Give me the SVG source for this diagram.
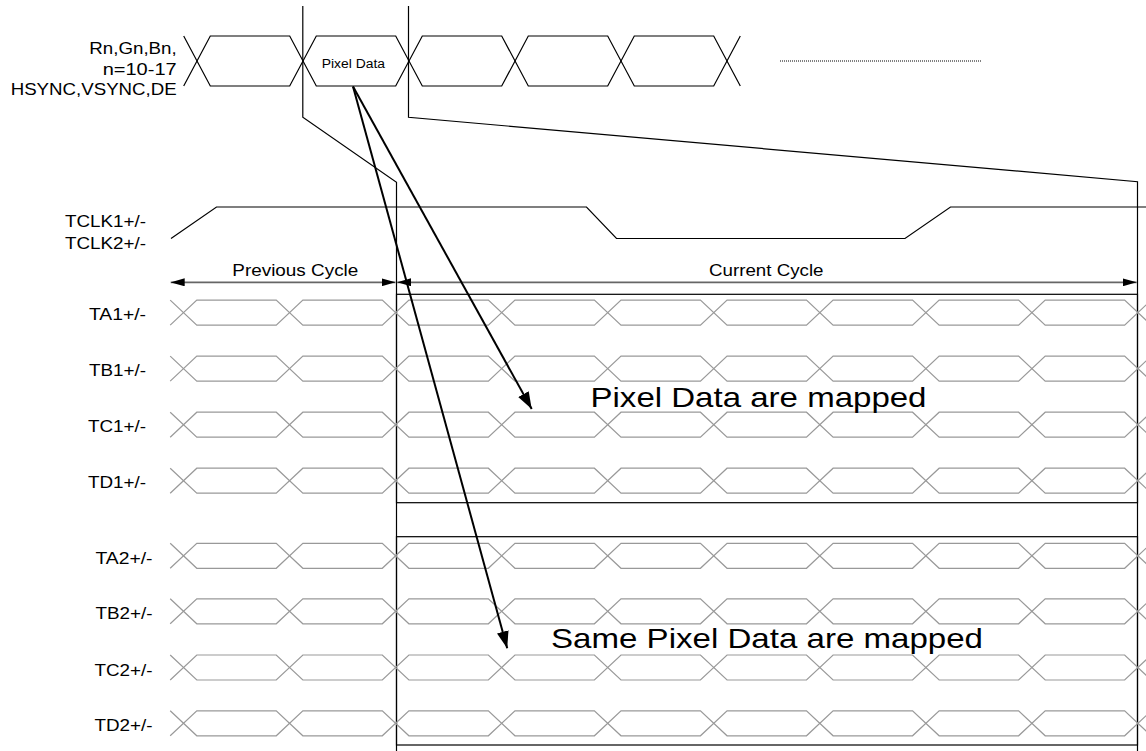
<svg xmlns="http://www.w3.org/2000/svg" width="1146" height="751" viewBox="0 0 1146 751">
<style>
 text{font-family:"Liberation Sans",Arial,sans-serif;fill:#000}
 .lbl{font-size:17px}
 .big{font-size:28.5px}
 .blk{fill:none;stroke:#000;stroke-width:1.2}
 .arr{fill:none;stroke:#000;stroke-width:2}
 .dim{fill:none;stroke:#666;stroke-width:1.8}
</style>
<defs>
 <marker id="ah" markerUnits="userSpaceOnUse" markerWidth="18" markerHeight="12" refX="17" refY="6" orient="auto"><path d="M0,0 L17,6 L0,12 z" fill="#000"/></marker>
 <marker id="dh" markerUnits="userSpaceOnUse" markerWidth="14" markerHeight="8" refX="14" refY="4" orient="auto-start-reverse"><path d="M0,0 L14,4 L0,8 z" fill="#000"/></marker>
 <g id="row" fill="none" stroke="#999" stroke-width="1.2">
  <path d="M170.2,-12.5 L196.8,12.5 H276.25 L302.85,-12.5 H382.3 L408.9,12.5 H488.35 L514.95,-12.5 H594.4 L621,12.5 H700.45 L727.05,-12.5 H806.5 L833.1,12.5 H912.55 L939.15,-12.5 H1018.6 L1045.2,12.5 H1124.65 L1151.25,-12.5"/>
  <path d="M170.2,12.5 L196.8,-12.5 H276.25 L302.85,12.5 H382.3 L408.9,-12.5 H488.35 L514.95,12.5 H594.4 L621,-12.5 H700.45 L727.05,12.5 H806.5 L833.1,-12.5 H912.55 L939.15,12.5 H1018.6 L1045.2,-12.5 H1124.65 L1151.25,12.5"/>
 </g>
</defs>
<rect width="1146" height="751" fill="#fff"/>

<g id="input-bus">
 <path class="blk" stroke-width="1" d="M183.7,36 L210.3,86 H289.7 L316.3,36 H395.7 L422.3,86 H501.7 L528.3,36 H607.7 L634.3,86 H713.7 L740.3,36"/>
 <path class="blk" stroke-width="1" d="M183.7,86 L210.3,36 H289.7 L316.3,86 H395.7 L422.3,36 H501.7 L528.3,86 H607.7 L634.3,36 H713.7 L740.3,86"/>
 <line x1="780" y1="61" x2="981" y2="61" stroke="#000" stroke-width="1" stroke-dasharray="1 1"/>
 <text x="321.7" y="68.3" font-size="12.5" textLength="63.3" lengthAdjust="spacingAndGlyphs">Pixel Data</text>
 <text class="lbl" x="89.3" y="54" font-size="15" textLength="87.4" lengthAdjust="spacingAndGlyphs">Rn,Gn,Bn,</text>
 <text class="lbl" x="102.7" y="74.5" font-size="15" textLength="74" lengthAdjust="spacingAndGlyphs">n=10-17</text>
 <text class="lbl" x="10.7" y="95" font-size="15" textLength="166" lengthAdjust="spacingAndGlyphs">HSYNC,VSYNC,DE</text>
</g>

<g id="zoom-lines">
 <path class="blk" stroke-width="1" d="M302.8,6 V117.3 L396.5,182.3 V751"/>
 <path class="blk" stroke-width="1" d="M408.5,6 V117.3 L1137.5,181.7 V751"/>
</g>

<g id="tclk">
 <polyline class="blk" points="171,238.5 216.5,207 586.5,207 616.5,238.5 905,238.5 950.5,207 1146,207"/>
 <text class="lbl" x="65" y="227.3" textLength="81" lengthAdjust="spacingAndGlyphs">TCLK1+/-</text>
 <text class="lbl" x="65" y="249.3" textLength="81" lengthAdjust="spacingAndGlyphs">TCLK2+/-</text>
</g>

<g id="cycles">
 <text class="lbl" x="232.3" y="276" textLength="126" lengthAdjust="spacingAndGlyphs">Previous Cycle</text>
 <text class="lbl" x="709" y="276" textLength="114.5" lengthAdjust="spacingAndGlyphs">Current Cycle</text>
</g>

<g id="box1"><rect class="blk" x="396.5" y="294.3" width="741" height="208.4"/></g>
<g id="box2"><rect class="blk" x="396.5" y="536.7" width="741" height="208.3"/></g>

<g id="TA1"><use href="#row" y="312.6"/><text class="lbl" x="88.9" y="319.6" textLength="57.1" lengthAdjust="spacingAndGlyphs">TA1+/-</text></g>
<g id="TB1"><use href="#row" y="368.6"/><text class="lbl" x="88.9" y="375.6" textLength="57.1" lengthAdjust="spacingAndGlyphs">TB1+/-</text></g>
<g id="TC1"><use href="#row" y="424.7"/><text class="lbl" x="87.9" y="431.7" textLength="58.1" lengthAdjust="spacingAndGlyphs">TC1+/-</text></g>
<g id="TD1"><use href="#row" y="480.7"/><text class="lbl" x="87.9" y="487.7" textLength="58.1" lengthAdjust="spacingAndGlyphs">TD1+/-</text></g>
<g id="TA2"><use href="#row" y="555.8"/><text class="lbl" x="95.4" y="563.8" textLength="57.1" lengthAdjust="spacingAndGlyphs">TA2+/-</text></g>
<g id="TB2"><use href="#row" y="611.3"/><text class="lbl" x="95.4" y="619.3" textLength="57.1" lengthAdjust="spacingAndGlyphs">TB2+/-</text></g>
<g id="TC2"><use href="#row" y="667.5"/><text class="lbl" x="94.4" y="675.5" textLength="58.1" lengthAdjust="spacingAndGlyphs">TC2+/-</text></g>
<g id="TD2"><use href="#row" y="723.3"/><text class="lbl" x="94.4" y="731.3" textLength="58.1" lengthAdjust="spacingAndGlyphs">TD2+/-</text></g>

<g id="captions">
 <text class="big" x="590.5" y="407.3" textLength="336" lengthAdjust="spacingAndGlyphs">Pixel Data are mapped</text>
 <text class="big" x="551" y="647.5" textLength="432" lengthAdjust="spacingAndGlyphs">Same Pixel Data are mapped</text>
</g>

<g id="connectors">
 <line class="dim" x1="170.7" y1="282.3" x2="395.5" y2="282.3" marker-start="url(#dh)" marker-end="url(#dh)"/>
 <line class="dim" x1="397.2" y1="282.3" x2="1136.7" y2="282.3" marker-start="url(#dh)" marker-end="url(#dh)"/>
 <line class="arr" x1="353" y1="86.5" x2="531.7" y2="409" marker-end="url(#ah)"/>
 <line class="arr" x1="353" y1="86.5" x2="507.2" y2="648.3" marker-end="url(#ah)"/>
</g>
</svg>
